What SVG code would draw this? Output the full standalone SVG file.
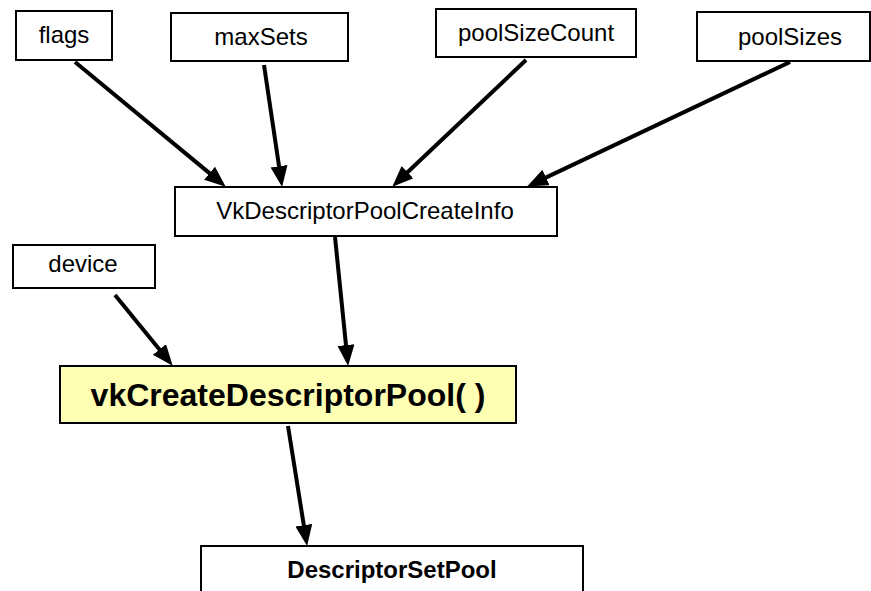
<svg xmlns="http://www.w3.org/2000/svg" width="871" height="591" viewBox="0 0 871 591">
  <style>
    .box { fill: #ffffff; stroke: #000000; stroke-width: 2; }
    .call { fill: #ffffb3; stroke: #000000; stroke-width: 2; }
    .lbl { font-family: "Liberation Sans", Arial, sans-serif; font-size: 24px; fill: #000000; text-anchor: middle; }
    .bold { font-weight: bold; }
    .conn line { stroke: #000000; stroke-width: 4; marker-end: url(#head); }
  </style>
  <defs>
    <marker id="head" markerUnits="userSpaceOnUse" markerWidth="22" markerHeight="18" refX="12" refY="8.5" orient="auto">
      <path d="M0,0 L21,8.5 L0,17 z" fill="#000000"/>
    </marker>
  </defs>
  <rect width="871" height="591" fill="#ffffff"/>

  <g id="flags">
    <rect class="box" x="16" y="11" width="96" height="49"/>
    <text class="lbl" x="64" y="43">flags</text>
  </g>
  <g id="maxSets">
    <rect class="box" x="171" y="13" width="177" height="48"/>
    <text class="lbl" x="261" y="45">maxSets</text>
  </g>
  <g id="poolSizeCount">
    <rect class="box" x="436" y="9" width="200" height="48"/>
    <text class="lbl" x="536" y="41">poolSizeCount</text>
  </g>
  <g id="poolSizes">
    <rect class="box" x="697" y="12" width="173" height="49"/>
    <text class="lbl" x="790" y="45">poolSizes</text>
  </g>
  <g id="createInfo">
    <rect class="box" x="175" y="187" width="382" height="49"/>
    <text class="lbl" x="365" y="219">VkDescriptorPoolCreateInfo</text>
  </g>
  <g id="device">
    <rect class="box" x="13" y="245" width="142" height="43"/>
    <text class="lbl" x="83" y="272">device</text>
  </g>
  <g id="vkCreateDescriptorPool">
    <rect class="call" x="60" y="366" width="456" height="57"/>
    <text class="lbl bold" x="288" y="406" style="font-size:32px">vkCreateDescriptorPool( )</text>
  </g>
  <g id="descriptorSetPool">
    <rect class="box" x="201" y="546" width="382" height="60"/>
    <text class="lbl bold" x="392" y="578">DescriptorSetPool</text>
  </g>

  <g id="connectors" class="conn">
    <line x1="75" y1="62" x2="218.8" y2="180.9"/>
    <line x1="264" y1="65" x2="280.8" y2="178.1"/>
    <line x1="526" y1="60" x2="398.8" y2="180.5"/>
    <line x1="790" y1="62" x2="535.2" y2="182.6"/>
    <line x1="335" y1="237" x2="347.2" y2="357"/>
    <line x1="115" y1="295" x2="167" y2="358.8"/>
    <line x1="288" y1="426" x2="305.7" y2="537.1"/>
  </g>
</svg>
